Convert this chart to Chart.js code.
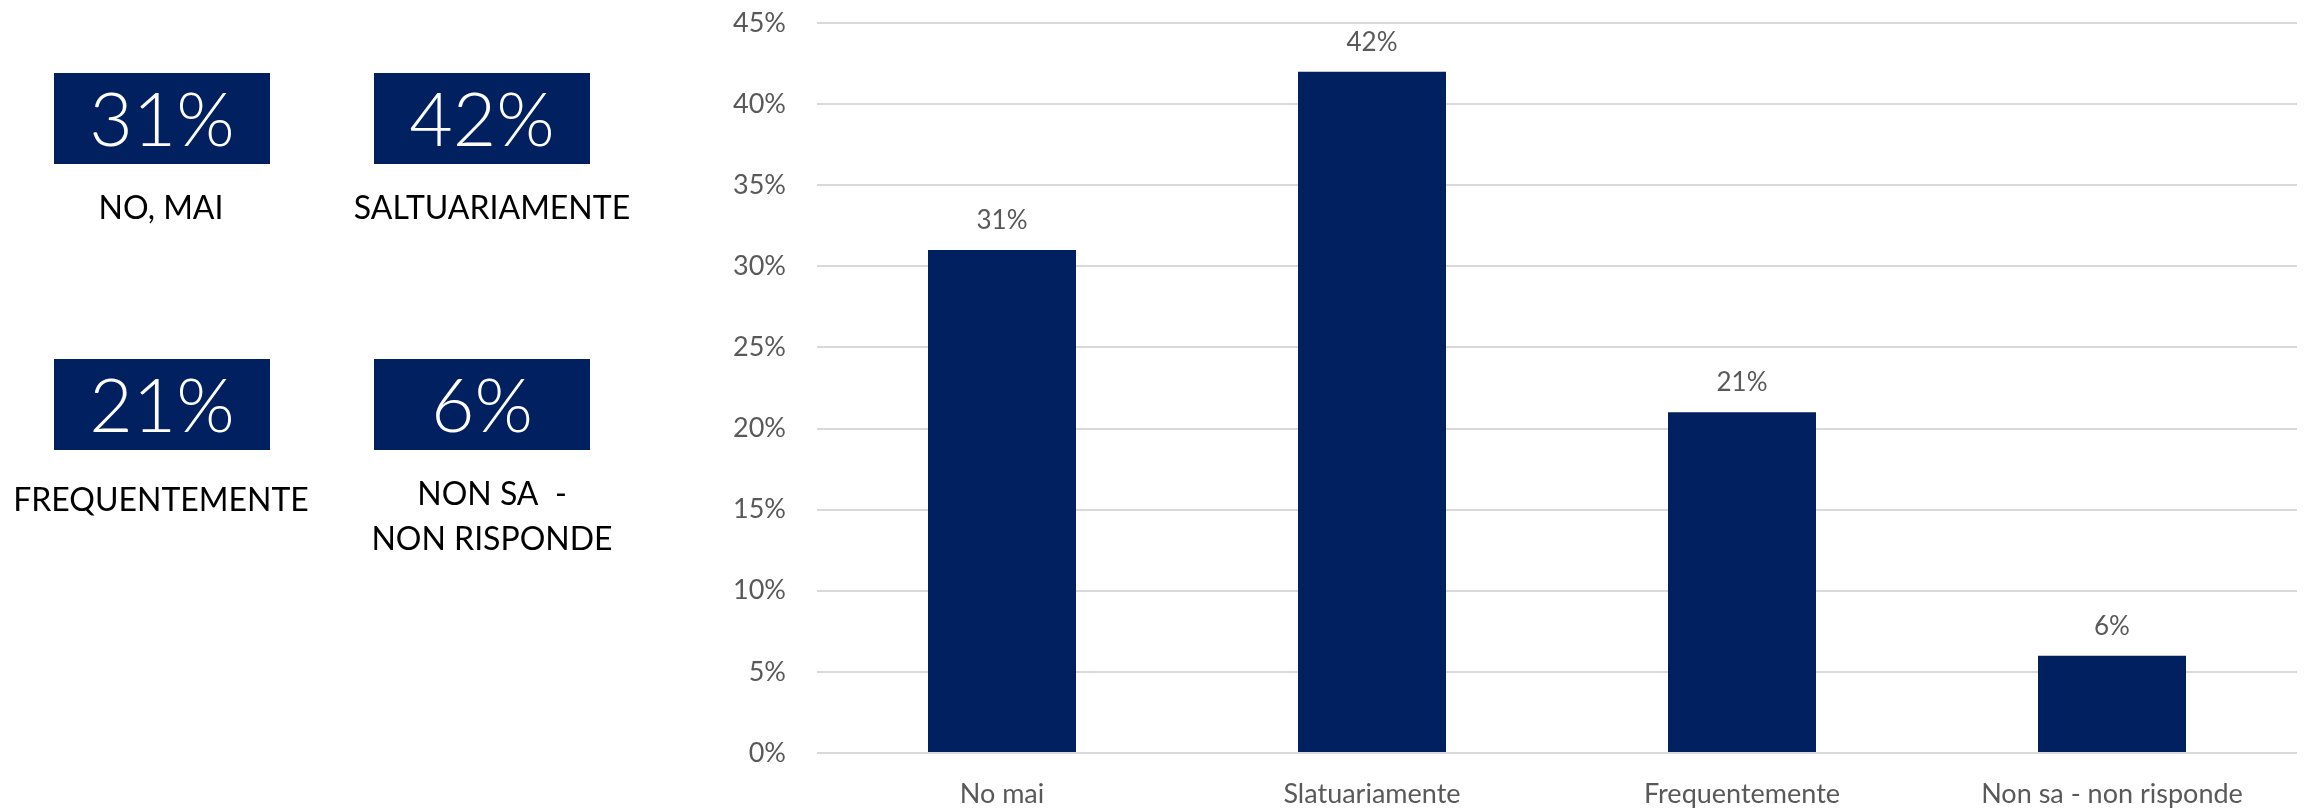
<!DOCTYPE html>
<html>
<head>
<meta charset="utf-8">
<script src="https://cdn.jsdelivr.net/npm/chart.js@4"></script>
<style>
  html, body { margin: 0; padding: 0; background: #ffffff; }
  #wrap { position: relative; width: 2306px; height: 812px; }
</style>
</head>
<body>
<div id="wrap"><canvas id="myChart" width="2306" height="812"></canvas></div>
<script>
// risposte (percentuali)
const categories = ['No mai', 'Slatuariamente', 'Frequentemente', 'Non sa - non risponde'];
const values = [31, 42, 21, 6];
const panelLabels = [['NO, MAI'], ['SALTUARIAMENTE'], ['FREQUENTEMENTE'], ['NON SA  -', 'NON RISPONDE']];
const yTicks = [0, 5, 10, 15, 20, 25, 30, 35, 40, 45];

const navy = '#002060';
const grey = '#595959';
const uiFont = "Lato, 'Open Sans', sans-serif";

// riquadri a sinistra con le percentuali
const panelPlugin = {
  id: 'panel',
  beforeDraw(chart) {
    const ctx = chart.ctx;
    ctx.save();
    values.forEach((v, i) => {
      const col = i % 2, row = Math.floor(i / 2);
      const bx = 54 + col * 320, by = 73 + row * 286;
      ctx.fillStyle = navy;
      ctx.fillRect(bx, by, 216, 91);
      ctx.fillStyle = '#ffffff';
      ctx.font = '300 75px ' + uiFont;
      ctx.textAlign = 'center';
      ctx.textBaseline = 'alphabetic';
      ctx.fillText(v + '%', bx + 108, by + 73);

      ctx.fillStyle = '#000000';
      ctx.font = '32px ' + uiFont;
      const lines = panelLabels[i];
      const cx = col === 0 ? bx + 107 : bx + 118;
      const base = row === 0 ? 219 : (lines.length > 1 ? 505 : 511);
      lines.forEach((t, k) => ctx.fillText(t, cx, base + k * 45));
    });
    ctx.restore();
  }
};

// etichette dei valori sopra le barre
const valueLabels = {
  id: 'valueLabels',
  afterDatasetsDraw(chart) {
    const ctx = chart.ctx;
    const meta = chart.getDatasetMeta(0);
    ctx.save();
    ctx.fillStyle = grey;
    ctx.font = '26px ' + uiFont;
    ctx.textAlign = 'center';
    ctx.textBaseline = 'alphabetic';
    meta.data.forEach((bar, i) => {
      ctx.fillText(values[i] + '%', bar.x, bar.y - 21);
    });
    ctx.restore();
  }
};

const config = {
  type: 'bar',
  data: {
    labels: categories,
    datasets: [{
      data: values,
      backgroundColor: navy,
      borderWidth: 0,
      categoryPercentage: 1,
      barPercentage: 0.4
    }]
  },
  options: {
    animation: false,
    responsive: false,
    layout: { padding: { left: 700, right: 9, top: 23, bottom: 0 } },
    plugins: {
      legend: { display: false },
      tooltip: { enabled: false }
    },
    scales: {
      x: {
        grid: { display: false, drawTicks: false },
        border: { display: false },
        ticks: {
          color: grey,
          font: { family: uiFont, size: 27 },
          padding: 25,
          maxRotation: 0,
          autoSkip: false
        },
        afterFit(scale) {
          scale.height = 59;
          scale.paddingLeft = 0;
          scale.paddingRight = 0;
        }
      },
      y: {
        min: 0,
        max: 45,
        afterBuildTicks(scale) { scale.ticks = yTicks.map(v => ({ value: v })); },
        grid: { color: '#d9d9d9', lineWidth: 2, drawTicks: false },
        border: { display: false },
        ticks: {
          color: grey,
          font: { family: uiFont, size: 27 },
          padding: 31,
          callback: v => v + '%'
        },
        afterFit(scale) {
          scale.width = 117;
          scale.paddingTop = 0;
          scale.paddingBottom = 0;
        }
      }
    }
  },
  plugins: [panelPlugin, valueLabels]
};

const myChart = new Chart(document.getElementById('myChart'), config);
</script>
</body>
</html>
